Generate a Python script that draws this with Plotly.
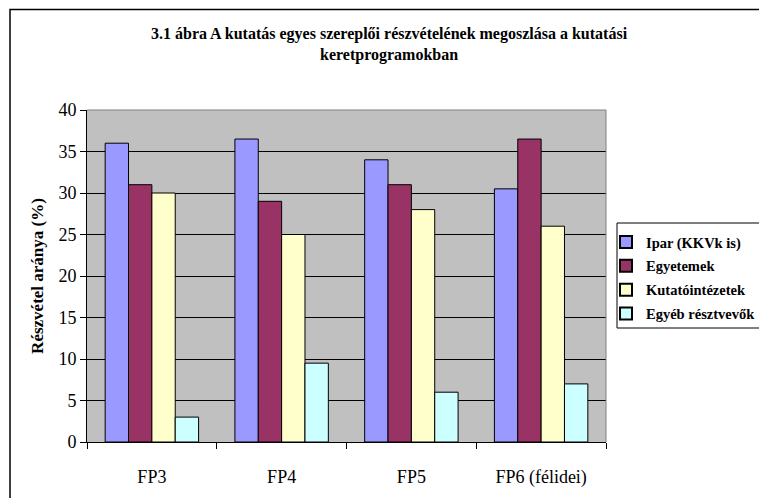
import plotly.graph_objects as go

categories = ["FP3", "FP4", "FP5", "FP6 (félidei)"]
series_names = ["Ipar (KKVk is)", "Egyetemek", "Kutatóintézetek", "Egyéb résztvevők"]
ipar = [36.0, 36.5, 34.0, 30.5]
egyetemek = [31.0, 29.0, 31.0, 36.5]
kutatointezetek = [30.0, 25.0, 28.0, 26.0]
egyeb = [3.0, 9.5, 6.0, 7.0]
colors = ["#9999FF", "#993366", "#FFFFCC", "#CCFFFF"]

W, H = 759, 498
L, R, T, B = 87, 606, 110, 442

fig = go.Figure()
for i, (name, vals, col) in enumerate(zip(series_names, [ipar, egyetemek, kutatointezetek, egyeb], colors)):
    fig.add_trace(go.Bar(
        x=categories, y=vals, name=name, legendgroup=f"g{i}",
        marker=dict(color=col, line=dict(color="black", width=1)),
    ))

def px_x(p):
    return (p - L) / (R - L)

def px_y(p):
    return (B - p) / (B - T)

serif = "Liberation Serif"

fig.update_layout(
    width=W, height=H,
    margin=dict(l=L, r=W - R, t=T, b=H - B, pad=0, autoexpand=False),
    paper_bgcolor="white",
    plot_bgcolor="#C0C0C0",
    barmode="group",
    bargap=0.28,
    bargroupgap=0,
    font=dict(family=serif, color="black"),
    showlegend=True,
    legend=dict(
        xref="container", yref="container",
        x=606 / W, y=1 - 226 / H, xanchor="left", yanchor="top",
        bgcolor="rgba(0,0,0,0)", borderwidth=0,
        font=dict(family=serif, size=14.5, color="black", weight="bold"),
        tracegroupgap=2, itemsizing="constant",
    ),
    annotations=[
        dict(
            text="<b>3.1 ábra A kutatás egyes szereplői részvételének megoszlása a kutatási</b><br><b>keretprogramokban</b>",
            xref="paper", yref="paper", x=px_x(389), y=px_y(23),
            xanchor="center", yanchor="top", showarrow=False,
            font=dict(family=serif, size=16, color="black"),
            align="center",
        ),
    ],
    shapes=[
        dict(type="rect", xref="paper", yref="paper",
             x0=px_x(10), x1=px_x(820), y0=px_y(9.5), y1=px_y(560),
             line=dict(color="black", width=1.5), fillcolor="rgba(0,0,0,0)", layer="above"),
        dict(type="rect", xref="paper", yref="paper",
             x0=px_x(617), x1=px_x(800), y0=px_y(223), y1=px_y(328),
             line=dict(color="black", width=1), fillcolor="white", layer="below"),
        dict(type="line", xref="paper", yref="paper",
             x0=0, x1=1, y0=1, y1=1, line=dict(color="#808080", width=1), layer="above"),
        dict(type="line", xref="paper", yref="paper",
             x0=1, x1=1, y0=0, y1=1, line=dict(color="#808080", width=1), layer="above"),
    ],
)

fig.update_xaxes(
    type="category", automargin=False,
    showline=True, linecolor="black", linewidth=1,
    ticks="outside", ticklen=6, tickcolor="black", tickson="boundaries",
    tickfont=dict(family=serif, size=18, color="black"),
    showgrid=False,
    ticklabelstandoff=18,
)
fig.update_yaxes(
    range=[0, 40], dtick=5, tick0=0, automargin=False,
    showline=True, linecolor="black", linewidth=1,
    ticks="outside", ticklen=6, tickcolor="black",
    tickfont=dict(family=serif, size=18, color="black"),
    showgrid=True, gridcolor="black", gridwidth=1,
    zeroline=False,
    title=dict(text="<b>Részvétel aránya (%)</b>", font=dict(family=serif, size=17, color="black"), standoff=10),
)

fig.write_html(
    "out.html",
    config={"displayModeBar": False},
    post_script="document.body.style.margin='0';document.body.style.overflow='hidden';",
)
